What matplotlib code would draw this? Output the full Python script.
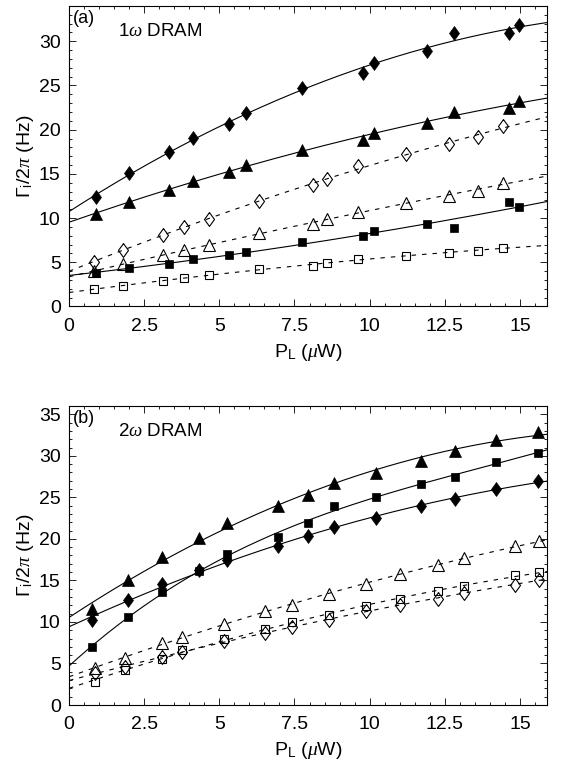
import numpy as np
import matplotlib.pyplot as plt
from matplotlib.ticker import MultipleLocator

plt.rcParams['font.family'] = ['Liberation Sans', 'DejaVu Sans']
plt.rcParams['mathtext.fontset'] = 'custom'
plt.rcParams['mathtext.rm'] = 'Liberation Sans'
plt.rcParams['mathtext.it'] = 'Liberation Serif:italic'

# ---- panel (a): 1w DRAM ----
xa_fill = [0.89, 1.98, 3.31, 4.14, 5.33, 5.89, 7.76, 9.78, 10.14, 11.9, 12.81, 14.62, 14.98]
ya_diam = [12.4, 15.07, 17.45, 19.1, 20.6, 21.9, 24.7, 26.45, 27.6, 28.9, 30.97, 30.9, 31.8]
ya_tri = [10.46, 11.86, 13.2, 14.2, 15.25, 16.0, 17.7, 18.8, 19.66, 20.8, 22.0, 22.5, 23.2]
ya_sq = [3.75, 4.32, 4.81, 5.34, 5.83, 6.2, 7.33, 7.98, 8.58, 9.33, 8.84, 11.78, 11.2]

xa_open = [0.83, 1.79, 3.14, 3.81, 4.64, 6.33, 8.11, 8.59, 9.62, 11.22, 12.64, 13.59, 14.42]
ya_odiam = [5.07, 6.4, 8.1, 8.96, 9.9, 11.97, 13.74, 14.4, 15.9, 17.2, 18.4, 19.2, 20.4]
ya_otri = [4.0, 4.77, 5.83, 6.4, 6.96, 8.28, 9.33, 9.9, 10.7, 11.75, 12.5, 13.1, 14.0]
ya_osq = [1.94, 2.36, 2.92, 3.26, 3.53, 4.2, 4.62, 4.96, 5.37, 5.71, 6.09, 6.31, 6.65]

# ---- panel (b): 2w DRAM ----
xb_fill = [0.76, 1.96, 3.09, 4.33, 5.26, 6.96, 7.96, 8.83, 10.22, 11.7, 12.83, 14.2, 15.6]
yb_tri = [11.55, 15.0, 17.85, 20.1, 21.9, 24.0, 25.24, 26.77, 27.9, 29.4, 30.6, 31.9, 32.85]
yb_sq = [6.97, 10.6, 13.56, 16.1, 18.2, 20.25, 21.9, 23.9, 25.1, 26.65, 27.5, 29.3, 30.3]
yb_diam = [10.2, 12.6, 14.6, 16.2, 17.5, 19.1, 20.3, 21.4, 22.55, 23.9, 24.85, 25.97, 27.0]

xb_open = [0.87, 1.87, 3.09, 3.76, 5.14, 6.51, 7.42, 8.64, 9.87, 11.0, 12.26, 13.14, 14.85, 15.65]
yb_otri = [4.43, 5.7, 7.45, 8.18, 9.78, 11.27, 12.0, 13.4, 14.6, 15.8, 16.8, 17.7, 19.1, 19.7]
yb_osq = [2.82, 4.23, 5.52, 6.64, 7.93, 9.14, 9.94, 10.87, 11.87, 12.77, 13.7, 14.37, 15.6, 16.0]
yb_odiam = [3.8, 4.55, 5.83, 6.44, 7.65, 8.66, 9.38, 10.27, 11.27, 12.08, 12.77, 13.49, 14.5, 15.1]

x_ticks = [0, 2.5, 5, 7.5, 10, 12.5, 15]
x_ticklabels = ['0', '2.5', '5', '7.5', '10', '12.5', '15']
XMAX = 15.9

DIAMOND = [(0, 1), (0.72, 0), (0, -1), (-0.72, 0), (0, 1)]


def series(ax, x, y, marker, filled, ms, deg=2):
    coef = np.polyfit(x, y, deg)
    xf = np.linspace(0, XMAX, 300)
    ls = '-' if filled else (0, (4, 5.4))
    ax.plot(xf, np.polyval(coef, xf), color='black', lw=0.8, ls=ls, zorder=2)
    ax.plot(x, y, ls='none', marker=marker, ms=ms,
            mfc='black' if filled else 'none', mec='black',
            mew=0.5 if filled else 0.8, zorder=3)


def style(ax, ymax, yticks, tag, title):
    ax.set_xlim(0, XMAX)
    ax.set_ylim(0, ymax)
    ax.set_xticks(x_ticks)
    ax.set_xticklabels(x_ticklabels)
    ax.set_yticks(yticks)
    ax.xaxis.set_minor_locator(MultipleLocator(0.5))
    ax.yaxis.set_minor_locator(MultipleLocator(1))
    ax.tick_params(which='both', direction='in', top=True, right=True,
                   labelsize=14, width=0.6)
    ax.tick_params(axis='x', pad=8)
    ax.tick_params(axis='y', pad=6)
    ax.tick_params(which='major', length=5)
    ax.tick_params(which='minor', length=2.5)
    for s in ax.spines.values():
        s.set_linewidth(0.8)
    ax.set_xlabel(r'P$_\mathrm{L}$ ($\mu$W)', fontsize=14, labelpad=5)
    ax.set_ylabel(r'$\Gamma_\mathrm{i}/2\pi$ (Hz)', fontsize=14, labelpad=2)
    ax.text(0.008, 0.985, tag, transform=ax.transAxes, fontsize=13, va='top', ha='left')
    ax.text(0.103, 0.915, title, transform=ax.transAxes, fontsize=13.5, va='center', ha='left')


fig = plt.figure(figsize=(5.63, 7.62), dpi=100)
ax1 = fig.add_axes([0.1226, 0.5978, 0.849, 0.3944])
ax2 = fig.add_axes([0.1226, 0.0748, 0.849, 0.3924])

series(ax1, xa_fill, ya_diam, DIAMOND, True, 10)
series(ax1, xa_fill, ya_tri, '^', True, 8.5)
series(ax1, xa_fill, ya_sq, 's', True, 5.8)
series(ax1, xa_open, ya_odiam, DIAMOND, False, 10)
series(ax1, xa_open, ya_otri, '^', False, 9)
series(ax1, xa_open, ya_osq, 's', False, 6.2)
style(ax1, 34, [0, 5, 10, 15, 20, 25, 30], '(a)', r'1$\omega$ DRAM')

series(ax2, xb_fill, yb_tri, '^', True, 8.5)
series(ax2, xb_fill, yb_sq, 's', True, 5.8, deg=3)
series(ax2, xb_fill, yb_diam, DIAMOND, True, 10)
series(ax2, xb_open, yb_otri, '^', False, 9)
series(ax2, xb_open, yb_osq, 's', False, 6.2)
series(ax2, xb_open, yb_odiam, DIAMOND, False, 10)
style(ax2, 36, [0, 5, 10, 15, 20, 25, 30, 35], '(b)', r'2$\omega$ DRAM')

fig.savefig('out.png', dpi=100)
